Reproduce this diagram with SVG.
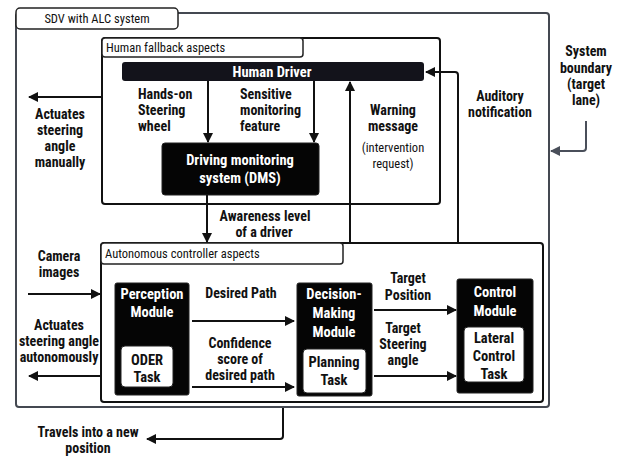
<svg xmlns="http://www.w3.org/2000/svg" width="623" height="456" viewBox="0 0 623 456">
<defs>
<style>
text{font-family:"Liberation Sans Narrow","Roboto Condensed","Liberation Sans",sans-serif;}
.b{font-weight:bold;font-size:14px;fill:#111;}
.n{font-size:12.5px;fill:#111;}
.w{font-weight:bold;font-size:14.5px;fill:#fff;}
.bk{font-weight:bold;font-size:14.5px;fill:#111;}
.m{text-anchor:middle;}
.frame{fill:none;stroke:#444851;stroke-width:2;}
.box{fill:none;stroke:#111;stroke-width:2;}
.tab{fill:#fff;stroke:#222;stroke-width:1.5;}
.blk{fill:#050505;stroke:#222;stroke-width:1;}
.wht{fill:#fff;stroke:#222;stroke-width:1;}
.ln{fill:none;stroke:#111;stroke-width:2;marker-end:url(#ah);}
.gl{fill:none;stroke:#4a4f5a;stroke-width:2;marker-end:url(#ahg);}
</style>
<marker id="ah" viewBox="0 0 10 10" refX="9" refY="5" markerWidth="5" markerHeight="5" orient="auto" markerUnits="strokeWidth"><path d="M0,0 L10,5 L0,10 z" fill="#111"/></marker>
<marker id="ahg" viewBox="0 0 10 10" refX="9" refY="5" markerWidth="5" markerHeight="5" orient="auto" markerUnits="strokeWidth"><path d="M0,0 L10,5 L0,10 z" fill="#4a4f5a"/></marker>
</defs>

<g id="sdv-system">
<rect class="frame" x="16" y="13" width="533" height="394" rx="3"/>
<rect class="tab" x="16" y="8" width="162" height="21" rx="4"/>
<text class="n m" x="97" y="23">SDV with ALC system</text>
</g>

<g id="human-fallback">
<rect class="box" x="102" y="38" width="338" height="166" rx="3"/>
<rect class="tab" x="102" y="38" width="201" height="19" rx="3"/>
<text class="n" x="106" y="52">Human fallback aspects</text>
</g>

<g id="human-driver">
<rect x="122" y="62" width="302" height="19" rx="3" fill="#13131b"/>
<text class="w m" x="272" y="77">Human Driver</text>
</g>

<g id="dms">
<rect class="blk" x="162" y="143" width="157" height="52" rx="3"/>
<text class="w m" x="240" y="165">Driving monitoring</text>
<text class="w m" x="240" y="183">system (DMS)</text>
</g>

<g id="autonomous-controller">
<rect class="box" x="101" y="243" width="442" height="159" rx="3"/>
<rect class="tab" x="101" y="243" width="242" height="21" rx="3"/>
<text class="n" x="105" y="258">Autonomous controller aspects</text>
</g>

<g id="perception">
<rect class="blk" x="115" y="283" width="74" height="112" rx="2"/>
<text class="w m" x="152" y="299">Perception</text>
<text class="w m" x="152" y="317">Module</text>
<rect class="wht" x="121" y="346" width="52" height="41" rx="4"/>
<text class="bk m" x="147" y="365">ODER</text>
<text class="bk m" x="147" y="382">Task</text>
</g>

<g id="decision-making">
<rect class="blk" x="297" y="283" width="75" height="113" rx="2"/>
<text class="w m" x="334" y="299">Decision-</text>
<text class="w m" x="334" y="318">Making</text>
<text class="w m" x="334" y="337">Module</text>
<rect class="wht" x="303" y="349" width="63" height="44" rx="4"/>
<text class="bk m" x="334" y="367">Planning</text>
<text class="bk m" x="334" y="385">Task</text>
</g>

<g id="control">
<rect class="blk" x="457" y="279" width="76" height="114" rx="2"/>
<text class="w m" x="495" y="297">Control</text>
<text class="w m" x="495" y="316">Module</text>
<rect class="wht" x="464" y="327" width="60" height="55" rx="4"/>
<text class="bk m" x="494" y="343">Lateral</text>
<text class="bk m" x="494" y="361">Control</text>
<text class="bk m" x="494" y="379">Task</text>
</g>

<g id="connectors">
<path class="ln" d="M208,81 V142"/>
<path class="ln" d="M314,81 V142"/>
<path class="ln" d="M207,195 V242"/>
<path class="ln" d="M350,243 V82"/>
<path class="ln" d="M458,243 V75 Q458,72 455,72 H426"/>
<path class="ln" d="M102,97 H29"/>
<path class="ln" d="M28,294 H100"/>
<path class="ln" d="M101,376 H29"/>
<path class="ln" d="M192,321 H294"/>
<path class="ln" d="M192,387 H294"/>
<path class="ln" d="M374,310 H456"/>
<path class="ln" d="M374,376 H456"/>
<path class="ln" d="M283,408 V436 Q283,439 280,439 H147"/>
<path class="gl" d="M586,121 V148 Q586,151 583,151 H551"/>
</g>

<g id="labels">
<text class="b" x="138" y="99">Hands-on</text>
<text class="b" x="138" y="115">Steering</text>
<text class="b" x="138" y="131">wheel</text>
<text class="b" x="240" y="99">Sensitive</text>
<text class="b" x="240" y="115">monitoring</text>
<text class="b" x="240" y="131">feature</text>
<text class="b m" x="60" y="119">Actuates</text>
<text class="b m" x="60" y="135">steering</text>
<text class="b m" x="60" y="151">angle</text>
<text class="b m" x="60" y="167">manually</text>
<text class="b m" x="393" y="115">Warning</text>
<text class="b m" x="393" y="131">message</text>
<text class="n m" x="393" y="152">(intervention</text>
<text class="n m" x="393" y="168">request)</text>
<text class="b m" x="500" y="101">Auditory</text>
<text class="b m" x="500" y="117">notification</text>
<text class="b m" x="586" y="56">System</text>
<text class="b m" x="586" y="73">boundary</text>
<text class="b m" x="586" y="89">(target</text>
<text class="b m" x="586" y="105">lane)</text>
<text class="b m" x="265" y="221">Awareness level</text>
<text class="b m" x="264" y="237">of a driver</text>
<text class="b m" x="59" y="261">Camera</text>
<text class="b m" x="59" y="277">images</text>
<text class="b m" x="59" y="330">Actuates</text>
<text class="b m" x="59" y="346">steering angle</text>
<text class="b m" x="59" y="362">autonomously</text>
<text class="b m" x="241" y="298">Desired Path</text>
<text class="b m" x="240" y="348">Confidence</text>
<text class="b m" x="240" y="364">score of</text>
<text class="b m" x="240" y="380">desired path</text>
<text class="b m" x="408" y="283">Target</text>
<text class="b m" x="408" y="300">Position</text>
<text class="b m" x="403" y="333">Target</text>
<text class="b m" x="403" y="349">Steering</text>
<text class="b m" x="403" y="365">angle</text>
<text class="b m" x="88" y="437">Travels into a new</text>
<text class="b m" x="88" y="453">position</text>
</g>
</svg>
